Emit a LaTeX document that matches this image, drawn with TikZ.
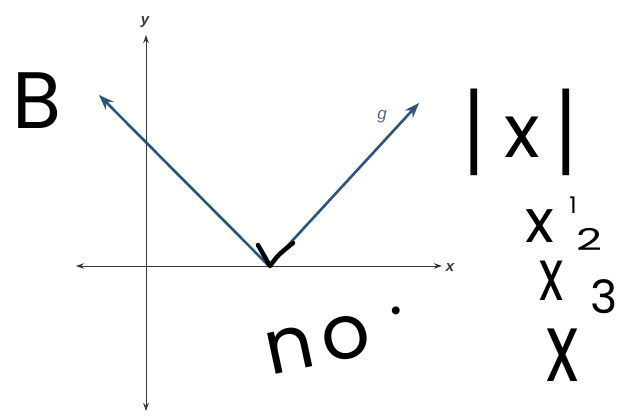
\documentclass[tikz,border=0pt]{standalone}
\usepackage{fontspec}
\setmainfont{Liberation Sans}
\newfontfamily\hand{Poppins}
\usetikzlibrary{arrows.meta}
\definecolor{vblue}{RGB}{44,84,125}
\definecolor{axgray}{RGB}{55,55,55}
\definecolor{glab}{RGB}{85,105,130}
\newcommand{\tallbar}{\raisebox{-0.1em}{\scalebox{1}[1.3]{|}}}
\begin{document}
\begin{tikzpicture}[x=1pt,y=-1pt,
  axis/.style={draw=axgray, line width=1pt, {Stealth[length=8pt,width=5.5pt]}-{Stealth[length=8pt,width=5.5pt]}},
  ray/.style={draw=vblue, line width=2.6pt, -{Stealth[length=15pt,width=11pt]}},
  axlabel/.style={font=\fontsize{15}{15}\selectfont\bfseries\itshape, text=axgray, inner sep=0pt},
  pen/.style={draw=black, line width=4.5pt, line cap=round, line join=round},
  hw/.style={inner sep=0pt, text=black}]
\useasboundingbox (0,0) rectangle (617,415);
\coordinate (xl) at (76,266);
\coordinate (xr) at (442,266);
\coordinate (yt) at (146,35);
\coordinate (yb) at (146,411);
\coordinate (v) at (269,266);
\coordinate (lt) at (99,95);
\coordinate (rt) at (419,103);
\draw[axis] (xl) -- (xr);
\draw[axis] (yb) -- (yt);
\draw[ray] (v) -- (lt);
\draw[ray] (v) -- (rt);
\node[axlabel] (ylab) at (145,22) {y};
\node[axlabel] (xlab) at (450,268) {x};
\node[inner sep=0pt, text=glab, font=\fontsize{17}{17}\selectfont\itshape] (glabel) at (382,117) {g};
% check mark
\coordinate (c1) at (258,245);
\coordinate (c2) at (270,266);
\coordinate (c3) at (293,243);
\draw[pen] (c1) -- (c2) .. controls (278,255) .. (c3);
% handwritten notes
\node[hw, font=\hand\fontsize{80}{80}\selectfont] (B) at (37,101) {B};
\node[hw, font=\hand\fontsize{74}{74}\selectfont] (absx) at (520,132) {\tallbar\hspace{0.27em}x\hspace{0.2em}\tallbar};
\node[hw, font=\hand\fontsize{23}{23}\selectfont] (e1) at (573,205) {1};
\node[hw, font=\hand\fontsize{60}{60}\selectfont] (x1) at (540,226) {x};
\node[hw, font=\hand\fontsize{72}{72}\selectfont, xscale=0.7] (x2) at (552,281) {x};
\node[hw, font=\hand\fontsize{30}{30}\selectfont, xscale=1.5] (e2) at (589,239) {2};
\node[hw, font=\hand\fontsize{96}{96}\selectfont, xscale=0.7] (x3) at (563,355) {x};
\node[hw, font=\hand\fontsize{46}{46}\selectfont] (e3) at (604,297) {3};
\node[hw, font=\hand\fontsize{76}{76}\selectfont, rotate=12] (no) at (318,344) {n\hspace{0.12em}o};
\node[hw, font=\hand\fontsize{64}{64}\selectfont] (dot) at (396,311) {.};
\end{tikzpicture}
\end{document}
